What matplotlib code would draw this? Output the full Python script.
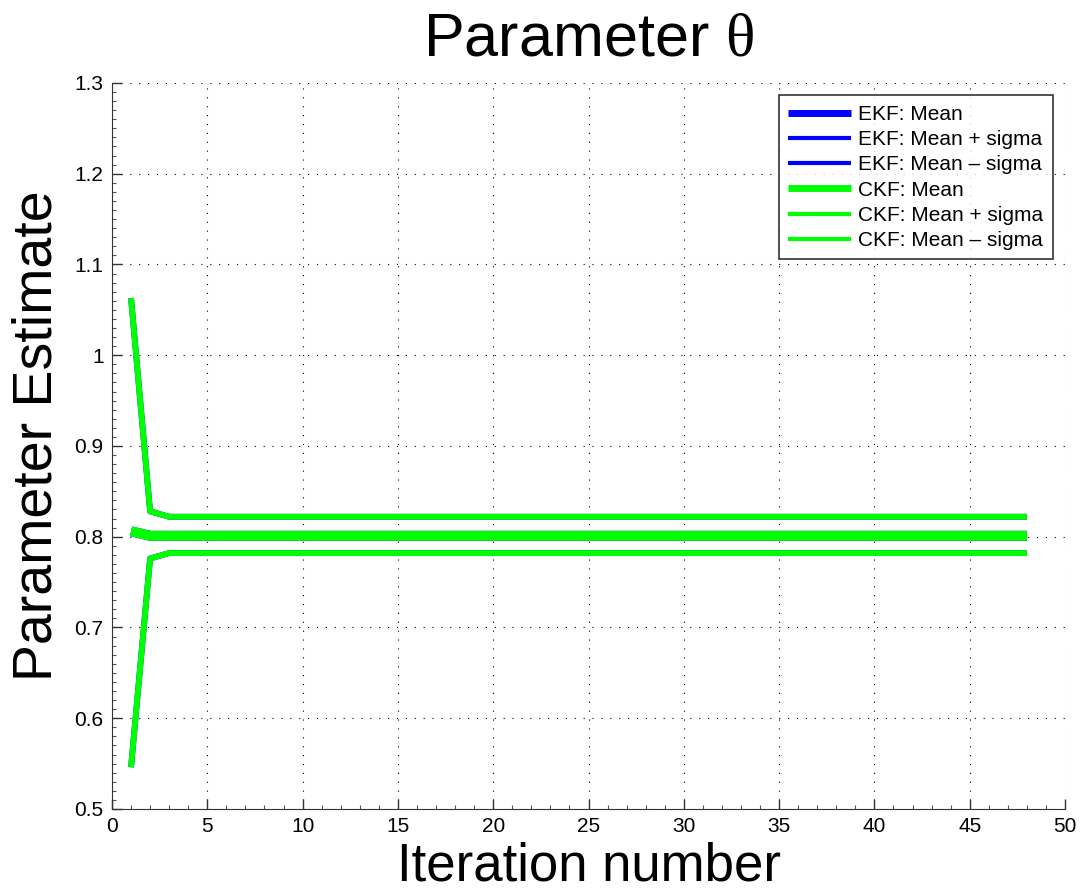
import numpy as np
import matplotlib.pyplot as plt
from matplotlib.ticker import MultipleLocator

plt.rcParams['font.family'] = ['Liberation Sans', 'DejaVu Sans']
plt.rcParams['mathtext.fontset'] = 'custom'
plt.rcParams['mathtext.it'] = 'Liberation Serif'
plt.rcParams['mathtext.rm'] = 'Liberation Serif'

iterations = list(range(1, 49))

# values (EKF lies under CKF, same values)
ckf_mean = [0.806, 0.801, 0.801, 0.801, 0.801, 0.801, 0.801, 0.801,
            0.801, 0.801, 0.801, 0.801, 0.801, 0.801, 0.801, 0.801,
            0.801, 0.801, 0.801, 0.801, 0.801, 0.801, 0.801, 0.801,
            0.801, 0.801, 0.801, 0.801, 0.801, 0.801, 0.801, 0.801,
            0.801, 0.801, 0.801, 0.801, 0.801, 0.801, 0.801, 0.801,
            0.801, 0.801, 0.801, 0.801, 0.801, 0.801, 0.801, 0.801]
ckf_upper = [1.063, 0.828, 0.822, 0.822, 0.822, 0.822, 0.822, 0.822,
             0.822, 0.822, 0.822, 0.822, 0.822, 0.822, 0.822, 0.822,
             0.822, 0.822, 0.822, 0.822, 0.822, 0.822, 0.822, 0.822,
             0.822, 0.822, 0.822, 0.822, 0.822, 0.822, 0.822, 0.822,
             0.822, 0.822, 0.822, 0.822, 0.822, 0.822, 0.822, 0.822,
             0.822, 0.822, 0.822, 0.822, 0.822, 0.822, 0.822, 0.822]
ckf_lower = [0.546, 0.776, 0.782, 0.782, 0.782, 0.782, 0.782, 0.782,
             0.782, 0.782, 0.782, 0.782, 0.782, 0.782, 0.782, 0.782,
             0.782, 0.782, 0.782, 0.782, 0.782, 0.782, 0.782, 0.782,
             0.782, 0.782, 0.782, 0.782, 0.782, 0.782, 0.782, 0.782,
             0.782, 0.782, 0.782, 0.782, 0.782, 0.782, 0.782, 0.782,
             0.782, 0.782, 0.782, 0.782, 0.782, 0.782, 0.782, 0.782]
ekf_mean = list(ckf_mean)
ekf_upper = list(ckf_upper)
ekf_lower = list(ckf_lower)

fig = plt.figure(figsize=(10.85, 8.94), dpi=100)
ax = fig.add_axes([0.1032, 0.0951, 0.8784, 0.8121])

series = [
    (ekf_mean, '#0000ff', 7.2, 'EKF: Mean'),
    (ekf_upper, '#0000ff', 4.2, 'EKF: Mean + sigma'),
    (ekf_lower, '#0000ff', 4.2, 'EKF: Mean \u2013 sigma'),
    (ckf_mean, '#00ff00', 7.2, 'CKF: Mean'),
    (ckf_upper, '#00ff00', 4.2, 'CKF: Mean + sigma'),
    (ckf_lower, '#00ff00', 4.2, 'CKF: Mean \u2013 sigma'),
]
for vals, col, lw, lab in series:
    ax.plot(iterations, vals, color=col, lw=lw, label=lab, solid_capstyle='butt')

ax.set_xlim(0, 50)
ax.set_ylim(0.5, 1.3)
ax.xaxis.set_major_locator(MultipleLocator(5))
ax.xaxis.set_minor_locator(MultipleLocator(1))
ax.yaxis.set_minor_locator(MultipleLocator(0.01))
ax.set_yticks(np.arange(0.5, 1.31, 0.1))
ax.set_yticklabels(['0.5', '0.6', '0.7', '0.8', '0.9', '1', '1.1', '1.2', '1.3'])

ax.tick_params(which='major', direction='in', length=7, width=1, labelsize=15, pad=6,
               color='#333333')
ax.tick_params(which='minor', direction='in', length=3, width=0.8, color='#555555')
ax.spines['top'].set_visible(False)
ax.spines['right'].set_visible(False)
ax.spines['left'].set_color('#333333')
ax.spines['bottom'].set_color('#333333')
ax.grid(True, which='major', color='black', linestyle=(0, (1, 7)), linewidth=0.8)
ax.set_axisbelow(True)

ax.set_title(r'Parameter $\theta$', fontsize=44, pad=20)
ax.set_xlabel('Iteration number', fontsize=38, labelpad=4)
ax.set_ylabel('Parameter Estimate', fontsize=40, labelpad=8)
ax.yaxis.label.set_y(0.514)

leg = ax.legend(loc='upper right', fontsize=15, frameon=True, fancybox=False,
                edgecolor='black', handlelength=3.0, handletextpad=0.35,
                labelspacing=0.3, borderpad=0.45, borderaxespad=0.6)
leg.get_frame().set_linewidth(1.2)
for h, (vals, col, lw, lab) in zip(leg.get_lines(), series):
    h.set_linewidth(5 if 'Mean' == lab.split(': ')[1] else 3)

fig.savefig('out.png', dpi=100)
